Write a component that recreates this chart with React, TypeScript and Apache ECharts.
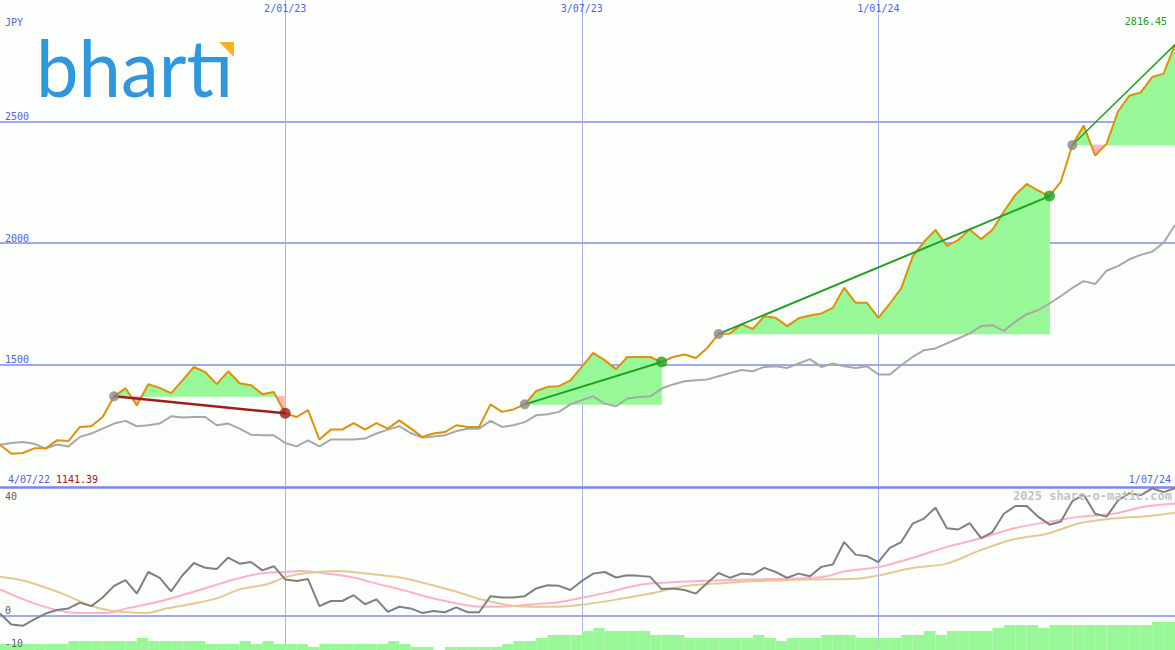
import React, { useEffect, useRef } from 'react';
import * as echarts from 'echarts';

// ---- categories (weekly, Mondays) ----
const START_UTC = Date.UTC(2022, 6, 11);
const WEEK_COUNT = 104;
const GRID_DATES = ['2/01/23', '3/07/23', '1/01/24'];
const PRICE_TICKS = [1500, 2000, 2500];
const OSC_TICKS_LOW = [0, -10];
const OSC_TICKS_HIGH = [40];

// ---- top panel: price (JPY) ----
const price = [
  1170, 1133, 1136, 1155, 1155, 1188, 1185, 1243, 1246, 1284,
  1369, 1402, 1332, 1419, 1404, 1382, 1435, 1490, 1468, 1419,
  1472, 1423, 1415, 1378, 1387, 1299, 1284, 1312, 1191, 1232,
  1232, 1259, 1232, 1259, 1236, 1270, 1237, 1202, 1216, 1222,
  1250, 1243, 1243, 1336, 1305, 1315, 1336, 1391, 1408, 1411,
  1435, 1490, 1548, 1518, 1481, 1531, 1531, 1531, 1510, 1531,
  1541, 1527, 1568, 1626, 1628, 1666, 1646, 1699, 1692, 1658,
  1690, 1702, 1710, 1733, 1816, 1754, 1754, 1692, 1751, 1813,
  1944, 2005, 2054, 1988, 2012, 2056, 2016, 2054, 2129, 2198,
  2243, 2216, 2193, 2253, 2403, 2483, 2360, 2408, 2541, 2606,
  2620, 2683, 2697, 2816.45,
];

// moving average (grey)
const average = [
  1170, 1177, 1181, 1174, 1154, 1171, 1163, 1202, 1216, 1236,
  1257, 1268, 1246, 1250, 1257, 1287, 1282, 1284, 1284, 1250,
  1257, 1236, 1211, 1209, 1209, 1177, 1163, 1188, 1163, 1191,
  1191, 1191, 1195, 1216, 1232, 1246, 1218, 1199, 1204, 1209,
  1226, 1236, 1236, 1268, 1243, 1250, 1263, 1291, 1295, 1305,
  1336, 1353, 1369, 1339, 1328, 1360, 1366, 1369, 1401, 1418,
  1431, 1435, 1438, 1452, 1465, 1477, 1472, 1490, 1493, 1486,
  1504, 1522, 1490, 1504, 1493, 1486, 1493, 1459, 1459, 1497,
  1531, 1559, 1566, 1587, 1607, 1628, 1658, 1662, 1638, 1676,
  1707, 1724, 1751, 1782, 1815, 1843, 1831, 1886, 1905, 1933,
  1951, 1964, 2001, 2074,
];

// trade segments (week index of entry / exit)
const segFrom = [10, 46, 63, 94];
const segTo = [25, 58, 92, 103];
const segGain = [false, true, true, true];
const segOpen = [false, false, false, true];

// ---- bottom panel ----
const oscillator = [
  0.7, -2.7, -3.1, -1.1, 0.7, 1.8, 2.3, 4.1, 3.0, 5.7,
  9.3, 11.1, 6.9, 13.6, 11.8, 7.6, 12.6, 16.4, 14.9, 14.5,
  18.1, 16.2, 16.7, 14.1, 15.4, 11.3, 10.8, 11.4, 3.0, 4.6,
  4.6, 6.4, 3.6, 5.1, 1.2, 2.8, 2.3, 0.9, 1.5, 1.1,
  2.6, 1.1, 1.1, 6.1, 5.7, 5.7, 6.1, 8.5, 9.5, 9.3,
  8.0, 10.8, 13.1, 13.6, 11.9, 12.6, 12.4, 12.1, 8.3, 8.5,
  8.0, 6.9, 10.2, 13.3, 11.8, 13.1, 12.8, 14.9, 13.6, 11.8,
  13.1, 12.3, 15.2, 15.9, 22.9, 19.0, 18.5, 16.7, 21.1, 22.9,
  28.6, 30.2, 33.6, 27.2, 26.8, 28.8, 24.1, 26.0, 31.7, 34.1,
  34.1, 30.8, 28.3, 29.3, 35.6, 37.6, 31.7, 30.8, 35.8, 38.1,
  37.4, 39.6, 38.4, 39.6,
];

const pinkX = [0, 1.5, 2.9, 4.4, 5.8, 7.3, 9.4, 11.1, 13.2, 15.2, 17.5, 20.5, 22.8, 24.8, 26.3, 28.1, 30.7, 33.0, 35.1, 38.0, 40.9, 42.4, 44.7, 46.8, 49.1, 51.0, 53.2, 55.5, 57.0, 59.3, 61.4, 64.3, 67.2, 70.1, 72.2, 74.2, 77.1, 80.1, 83.0, 85.9, 88.8, 91.8, 94.7, 97.6, 100.5, 103];
const pinkV = [8.2, 5.9, 4.0, 2.3, 1.2, 0.9, 0.9, 2.3, 3.8, 5.6, 8.0, 11.3, 13.1, 13.6, 13.9, 13.4, 12.1, 10.0, 8.2, 5.4, 3.3, 2.8, 3.0, 3.6, 4.3, 5.6, 7.2, 9.2, 10.0, 10.5, 10.8, 11.1, 11.4, 11.6, 12.1, 13.9, 15.2, 18.1, 21.4, 24.0, 27.1, 29.1, 30.8, 31.7, 34.0, 34.8];

const tanX = [0, 1.8, 3.8, 5.8, 7.6, 9.4, 11.1, 12.9, 14.6, 17.0, 19.0, 21.0, 23.4, 25.1, 26.9, 29.8, 32.1, 35.1, 36.8, 39.5, 42.4, 45.3, 48.2, 49.7, 51.4, 54.1, 57.0, 59.9, 62.8, 65.7, 68.4, 71.3, 75.4, 77.1, 80.1, 83.0, 85.9, 88.8, 91.8, 94.7, 97.6, 100.5, 103];
const tanV = [12.1, 11.1, 9.0, 6.4, 3.6, 1.8, 1.1, 0.9, 2.3, 3.8, 5.4, 8.2, 9.8, 12.1, 13.3, 13.9, 13.1, 11.9, 10.5, 8.0, 4.9, 3.0, 2.8, 3.0, 3.6, 5.1, 6.9, 9.2, 10.0, 10.7, 11.0, 11.3, 11.6, 12.6, 14.9, 16.2, 20.3, 23.7, 25.5, 28.8, 30.2, 30.9, 32.0];

// volume (bar k spans week k .. k+1)
const volume = [
  6, 6, 6, 6, 6, 6, 9, 9, 9, 9, 9, 9, 12, 9, 9, 9, 9, 9, 6, 6,
  6, 9, 6, 9, 6, 6, 6, 3, 6, 6, 6, 6, 6, 6, 9, 6, 3, 3, 0, 3,
  3, 3, 3, 3, 6, 9, 9, 12, 15, 15, 15, 19, 22, 19, 19, 19, 19, 15, 15, 15,
  12, 12, 12, 12, 12, 12, 15, 12, 9, 12, 12, 12, 15, 15, 15, 12, 12, 12, 12, 15,
  15, 19, 15, 19, 19, 19, 19, 22, 25, 25, 25, 22, 25, 25, 25, 25, 25, 25, 25, 25,
  25, 28, 28,
];

const LOW_LABEL = '1141.39';
const LAST_LABEL = '2816.45';

const BLUE_TEXT = '#5060f0';
const MONO = 'DejaVu Sans Mono';
const GREEN_FILL = '#98f898';
const PINK_FILL = '#ffb8c8';

function fmtDate(ms: number): string {
  const d = new Date(ms);
  return `${d.getUTCDate()}/${String(d.getUTCMonth() + 1).padStart(2, '0')}/${String(d.getUTCFullYear()).slice(2)}`;
}

export default function App() {
  const ref = useRef<HTMLDivElement>(null);

  useEffect(() => {
    if (!ref.current) return;
    const chart = echarts.init(ref.current, undefined, { renderer: 'svg' });

    const weeks = Array.from({ length: WEEK_COUNT }, (_, i) => fmtDate(START_UTC + i * 7 * 86400000));
    const isGridDate = (_i: number, v: string) => GRID_DATES.includes(v);

    // fill data: [i, p_i, p_i+1, base]
    const fillData: number[][] = [];
    segFrom.forEach((f, s) => {
      const base = price[f];
      for (let i = f; i < segTo[s]; i++) fillData.push([i, price[i], price[i + 1], base]);
    });

    const fillRender = (_p: any, api: any) => {
      const i = api.value(0), a = api.value(1), b = api.value(2), base = api.value(3);
      const P = (x: number, v: number) => api.coord([x, v]);
      const poly = (pts: number[][], up: boolean) => ({
        type: 'polygon',
        shape: { points: pts },
        style: { fill: up ? GREEN_FILL : PINK_FILL, stroke: up ? GREEN_FILL : PINK_FILL, lineWidth: 0.8 },
      });
      const da = a - base, db = b - base;
      if ((da >= 0 && db >= 0) || (da <= 0 && db <= 0)) {
        return poly([P(i, base), P(i, a), P(i + 1, b), P(i + 1, base)], da + db >= 0);
      }
      const xc = i + da / (da - db);
      return {
        type: 'group',
        children: [
          poly([P(i, base), P(i, a), P(xc, base)], da > 0),
          poly([P(xc, base), P(i + 1, b), P(i + 1, base)], db > 0),
        ],
      };
    };

    const volRender = (_p: any, api: any) => {
      const i = api.value(0), v = api.value(1);
      const p0 = api.coord([i, v]);
      const p1 = api.coord([i + 1, 0]);
      return {
        type: 'rect',
        shape: { x: p0[0], y: p0[1], width: p1[0] - p0[0], height: p1[1] - p0[1] },
        style: { fill: GREEN_FILL },
      };
    };

    const trendSeries = segFrom.map((f, s) => ({
      type: 'line',
      xAxisIndex: 1,
      yAxisIndex: 0,
      data: [[f, price[f]], [segTo[s], price[segTo[s]]]],
      symbol: 'none',
      lineStyle: { color: segGain[s] ? '#22a022' : '#a01c1c', width: segOpen[s] ? 1.5 : segGain[s] ? 2 : 2.5 },
      z: 6,
      silent: true,
    }));

    const startMarks = segFrom.map((f) => [f, price[f]]);
    const lossMarks = segTo.filter((_, s) => !segGain[s] && !segOpen[s]).map((t) => [t, price[t]]);
    const gainMarks = segTo.filter((_, s) => segGain[s] && !segOpen[s]).map((t) => [t, price[t]]);

    const option: any = {
      animation: false,
      backgroundColor: '#fcfefc',
      textStyle: { fontFamily: MONO },
      grid: [
        { left: 0, right: 0, top: 0, height: 486 },
        { left: 0, right: 0, top: 487, height: 161 },
        { left: 0, right: 0, top: 600, height: 50 },
      ],
      xAxis: [
        {
          type: 'category', gridIndex: 0, data: weeks, boundaryGap: false, position: 'top',
          axisLine: { show: false }, axisTick: { show: false },
          axisLabel: { inside: true, interval: isGridDate, margin: 3, color: BLUE_TEXT, fontSize: 10, fontFamily: MONO },
          splitLine: { show: true, interval: isGridDate, lineStyle: { color: '#a8b0f4', width: 1 } },
        },
        { type: 'value', gridIndex: 0, min: 0, max: WEEK_COUNT - 1, show: false },
        {
          type: 'category', gridIndex: 1, data: weeks, boundaryGap: false, position: 'bottom',
          axisLine: { show: true, onZero: true, lineStyle: { color: '#a0a8f0', width: 2 } },
          axisTick: { show: false }, axisLabel: { show: false },
          splitLine: { show: true, interval: isGridDate, lineStyle: { color: '#a8b0f4', width: 1 } },
        },
        {
          type: 'value', gridIndex: 1, min: 0, max: WEEK_COUNT - 1, position: 'top',
          axisLine: { show: true, onZero: false, lineStyle: { color: '#7a86ee', width: 2.5 } },
          axisTick: { show: false }, axisLabel: { show: false }, splitLine: { show: false },
        },
        { type: 'value', gridIndex: 2, min: 0, max: WEEK_COUNT - 1, show: false },
      ],
      yAxis: [
        {
          type: 'value', gridIndex: 0, position: 'left', min: 1000, max: 3000, interval: 500,
          axisLine: { show: false }, axisTick: { show: false },
          axisLabel: {
            inside: true, margin: 5, verticalAlign: 'bottom', color: BLUE_TEXT, fontSize: 10, fontFamily: MONO,
            formatter: (v: number) => (PRICE_TICKS.includes(v) ? String(v) : ''),
          },
          splitLine: { show: true, showMinLine: false, showMaxLine: false, lineStyle: { color: '#a0a8f0', width: 2 } },
        },
        {
          type: 'value', gridIndex: 1, position: 'left', min: -10, max: 40, interval: 10, z: 10,
          axisLine: { show: false }, axisTick: { show: false }, splitLine: { show: false },
          axisLabel: {
            inside: true, margin: 5, verticalAlign: 'bottom', color: '#606060', fontSize: 10, fontFamily: MONO,
            showMinLabel: true, showMaxLabel: true,
            formatter: (v: number) => (OSC_TICKS_LOW.includes(v) ? String(v) : ''),
          },
        },
        {
          type: 'value', gridIndex: 1, position: 'left', offset: 0, min: -10, max: 40, interval: 10, z: 10,
          axisLine: { show: false }, axisTick: { show: false }, splitLine: { show: false },
          axisLabel: {
            inside: true, margin: 5, verticalAlign: 'top', padding: [4, 0, 0, 0], color: '#606060', fontSize: 10, fontFamily: MONO,
            showMinLabel: true, showMaxLabel: true,
            formatter: (v: number) => (OSC_TICKS_HIGH.includes(v) ? String(v) : ''),
          },
        },
        { type: 'value', gridIndex: 2, min: 0, max: 50, show: false },
      ],
      graphic: [
        { type: 'text', x: 5, y: 22, style: { text: 'JPY', fill: BLUE_TEXT, font: `10px ${MONO}`, verticalAlign: 'middle' } },
        { type: 'text', x: 8, y: 479, style: { text: fmtDate(START_UTC - 7 * 86400000), fill: BLUE_TEXT, font: `10px ${MONO}`, verticalAlign: 'middle' } },
        { type: 'text', x: 56, y: 479, style: { text: LOW_LABEL, fill: '#a01818', font: `10px ${MONO}`, verticalAlign: 'middle' } },
        { type: 'text', x: 1171, y: 479, style: { text: weeks[WEEK_COUNT - 1], fill: BLUE_TEXT, font: `10px ${MONO}`, align: 'right', verticalAlign: 'middle' } },
        { type: 'text', x: 1167, y: 21, style: { text: LAST_LABEL, fill: '#209a20', font: `10px ${MONO}`, align: 'right', verticalAlign: 'middle' } },
        { type: 'text', x: 1172, y: 496, z: 10, style: { text: '2025 share-o-matic.com', fill: '#c4c4c4', font: `bold 12px ${MONO}`, align: 'right', verticalAlign: 'middle' } },
        { type: 'text', x: 36, y: 66, scaleX: 0.95, style: { text: 'bhartı', fill: '#2f97dd', font: '80px Lato', verticalAlign: 'middle' } },
        { type: 'polygon', shape: { points: [[219, 42], [234, 42], [234, 57]] }, style: { fill: '#f9b21d' } },
      ],
      series: [
        {
          type: 'custom', xAxisIndex: 1, yAxisIndex: 0, renderItem: fillRender, data: fillData,
          encode: { x: 0, y: 1 }, z: 1, silent: true, clip: true,
        },
        {
          type: 'line', xAxisIndex: 0, yAxisIndex: 0, data: average, symbol: 'none',
          lineStyle: { color: '#a8a8a8', width: 2 }, z: 3, silent: true,
        },
        {
          type: 'line', xAxisIndex: 0, yAxisIndex: 0, data: price, symbol: 'none',
          lineStyle: { color: '#e0900c', width: 2 }, z: 4, silent: true,
        },
        ...trendSeries,
        {
          type: 'scatter', xAxisIndex: 1, yAxisIndex: 0, data: startMarks, symbolSize: 10,
          itemStyle: { color: '#888888' }, z: 7, silent: true,
        },
        {
          type: 'scatter', xAxisIndex: 1, yAxisIndex: 0, data: lossMarks, symbolSize: 11,
          itemStyle: { color: '#a01c1c' }, z: 7, silent: true,
        },
        {
          type: 'scatter', xAxisIndex: 1, yAxisIndex: 0, data: gainMarks, symbolSize: 11,
          itemStyle: { color: '#22a022' }, z: 7, silent: true,
        },
        {
          type: 'custom', xAxisIndex: 4, yAxisIndex: 3, renderItem: volRender,
          data: volume.map((v, i) => [i, v]), encode: { x: 0, y: 1 }, z: 1, silent: true,
        },
        {
          type: 'line', xAxisIndex: 3, yAxisIndex: 1, data: pinkX.map((x, i) => [x, pinkV[i]]), symbol: 'none',
          smooth: 0.3, lineStyle: { color: '#ffb0c8', width: 2 }, z: 3, silent: true,
        },
        {
          type: 'line', xAxisIndex: 3, yAxisIndex: 1, data: tanX.map((x, i) => [x, tanV[i]]), symbol: 'none',
          smooth: 0.3, lineStyle: { color: '#e6c896', width: 2 }, z: 3, silent: true,
        },
        {
          type: 'line', xAxisIndex: 2, yAxisIndex: 1, data: oscillator, symbol: 'none',
          lineStyle: { color: '#808080', width: 2 }, z: 4, silent: true,
        },
      ],
    };

    chart.setOption(option);
    return () => chart.dispose();
  }, []);

  return <div ref={ref} style={{ position: 'fixed', left: 0, top: 0, width: 1175, height: 650 }} />;
}
